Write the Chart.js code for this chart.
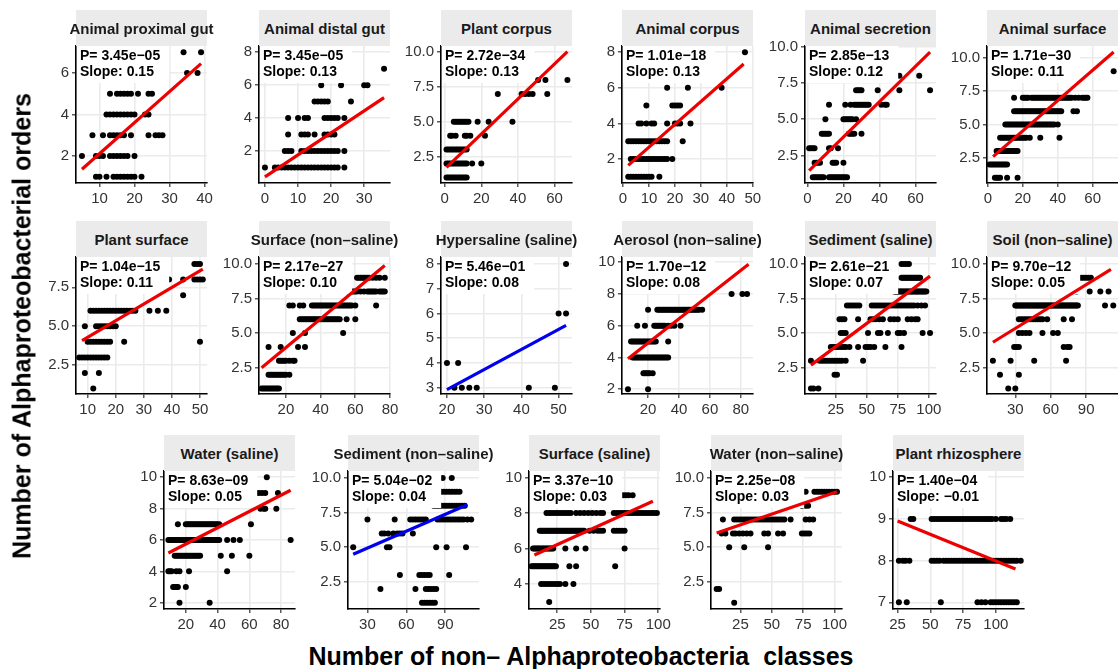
<!DOCTYPE html>
<html>
<head>
<meta charset="utf-8">
<script src="https://cdn.jsdelivr.net/npm/chart.js@4.4.1/dist/chart.umd.min.js"></script>
<style>
  html, body { margin: 0; padding: 0; background: #fff; }
  body { width: 1118px; height: 669px; position: relative; overflow: hidden;
         font-family: "Liberation Sans", Arial, Helvetica, sans-serif; }
  .panel { position: absolute; }
  .strip { position: absolute; background: #ebebeb; display: flex; align-items: center;
           justify-content: center; font-weight: bold; font-size: 15px; color: #1a1a1a;
           white-space: nowrap; overflow: visible; }
  .axis-title { position: absolute; font-weight: bold; font-size: 25px; color: #000;
                white-space: pre; }
</style>
</head>
<body>
<div id="figure"></div>
<div class="axis-title" id="ytitle" style="left:22px; top:326px; transform: translate(-50%,-50%) rotate(-90deg);">Number of Alphaproteobacterial orders</div>
<div class="axis-title" id="xtitle" style="left:581px; top:656px; transform: translate(-50%,-50%);">Number of non– Alphaproteobacteria  classes</div>
<script>
// ---- habitat panels -------------------------------------------------------
const panelNames = [
  'Animal proximal gut', 'Animal distal gut', 'Plant corpus', 'Animal corpus',
  'Animal secretion', 'Animal surface', 'Plant surface', 'Surface (non–saline)',
  'Hypersaline (saline)', 'Aerosol (non–saline)', 'Sediment (saline)', 'Soil (non–saline)',
  'Water (saline)', 'Sediment (non–saline)', 'Surface (saline)', 'Water (non–saline)',
  'Plant rhizosphere'
];

// regression results per panel
const pValues = [3.45e-5, 3.45e-5, 2.72e-34, 1.01e-18, 2.85e-13, 1.71e-30, 1.04e-15, 2.17e-27,
                 5.46e-1, 1.70e-12, 2.61e-21, 9.70e-12, 8.63e-9, 5.04e-2, 3.37e-10, 2.25e-8, 1.40e-4];
const slopes = [0.1498, 0.134, 0.126, 0.128, 0.122, 0.114, 0.107, 0.104,
                0.081, 0.0762, 0.067, 0.0527, 0.052, 0.0405, 0.0344, 0.031, -0.0128];
const intercepts = [0.61, 0.42, 1.60, 1.384, 1.33, 2.24, 3.22, 1.876,
                    1.31, 3.394, 2.35, 3.76, 4.70, 3.73, 5.36, 5.84, 9.27];
const lineFrom = [5, 0, 1, 2, 1, 3, 8, 6, 20, 7, 5, 11, 9, 19, 8, 6, 25];
const lineTo   = [39, 36, 67, 46.5, 68, 72, 51, 77, 52, 85, 101, 111, 86, 107, 96, 102, 115];

// axis ticks and limits per panel
const xTicks = [
  [10,20,30,40], [0,10,20,30], [0,20,40,60], [0,10,20,30,40,50], [0,20,40,60], [0,20,40,60],
  [10,20,30,40,50], [20,40,60,80], [20,30,40,50], [20,40,60,80], [25,50,75,100], [30,60,90],
  [20,40,60,80], [30,60,90], [25,50,75,100], [25,50,75,100], [25,50,75,100]
];
const yTicks = [
  [2,4,6], [2,4,6,8], [2.5,5,7.5,10], [2,4,6,8], [2.5,5,7.5,10], [2.5,5,7.5,10],
  [2.5,5,7.5], [2.5,5,7.5,10], [3,4,5,6,7,8], [2,4,6,8,10], [2.5,5,7.5,10], [2.5,5,7.5,10],
  [2,4,6,8,10], [2.5,5,7.5,10], [4,6,8,10], [2.5,5,7.5,10], [7,8,9,10]
];
const xLimits = [
  [3.3,40.7], [-1.8,37.8], [-2,69.5], [-0.4,50.1], [-1.3,71.3], [-0.5,74.5],
  [5.85,52.5], [4.5,80], [18.4,53.6], [3.15,87.85], [0.2,105.8], [6,117],
  [6.25,88.75], [15,116], [4,101.3], [1.5,106], [21.5,121.5]
];
const yLimits = [
  [0.7,7.3], [0.05,8.38], [0.6,10.45], [0.65,8.35], [0.6,10.05], [0.6,10.9],
  [0.65,9.45], [0.6,10.5], [2.75,8.28], [1.7,10.33], [0.6,10.5], [0.6,10.5],
  [1.6,10.4], [0.55,10.5], [2.6,10.36], [0.55,10.5], [6.84,10.15]
];

// observations: [orders, [non-Alphaproteobacteria class counts]]
const proximalGut = [
  [7,[34,39]], [6,[35,38]],
  [5,[13,15,16,17,18,19,21,24,25]],
  [4,[12,13,14,15,16,17,18,19,20,23,24]],
  [3,[8,11,13,14,15,16,17,19,24,26,27,28]],
  [2,[5,9,10,11,13,14,15,16,17,18,20]],
  [1,[9,10,12,14,15,16,17,18,19,20,22]]
];
const distalGut = [
  [7,[36]], [6,[17,23,30,31]],
  [5,[15,16,17,18,19,26]],
  [4,[7,10,12,13,18,19,20,21,22,24]],
  [3,[7,11,12,13,15,18,19,20,21]],
  [2,[6,7,8,11,12,13,14,15,16,17,18,19,20,21,22,24]],
  [1,[0,3,4,5,6,7,8,9,10,11,12,13,14,15,16,17,18,19,20,21,22,24]]
];
const plantCorpus = [
  [8,[51,55,67]], [7,[29,42,44,46,48,56]],
  [5,[5,6,7,8,9,10,11,12,13,18,24,37]],
  [4,[3,4,6,11,12,14,22]],
  [3,[1,2,3,4,5,6,7,8,9,10,11,12]],
  [2,[1,2,3,4,5,6,7,8,9,10,11,12,15,20]],
  [1,[1,2,3,4,5,6,7,8,9,10,11,12]]
];
const animalCorpus = [
  [8,[47]], [6,[17,25,38]],
  [5,[9,19,20,21,22]],
  [4,[6,7,9,11,12,17,20,21,22,26]],
  [3,[2,3,4,5,6,7,8,9,10,11,12,13,14,15,16,17,23]],
  [2,[3,4,5,6,7,8,9,10,11,12,13,14,15,16,17,19]],
  [1,[2,3,4,5,6,7,8,9,10,11,14]]
];
const animalSecretion = [
  [8,[51,62]], [7,[27,28,29,30,39,51,68]],
  [6,[12,21,24,26,27,28,29,30,31,32,33,34,41,43,44]],
  [5,[10,20,21,22,23,24,25,27]],
  [4,[8,9,10,11,12,23,24,25,26,30]],
  [3,[1,2,3,4,12,13,17]],
  [2,[4,5,6,7,14,15,16,20]],
  [1,[3,4,5,6,7,8,9,12,13,14,15,16,17,18,19,20,21,22]]
];
const animalSurface = [
  [9,[72]],
  [7,[15,20,21,22,23,25,26,27,28,29,30,31,32,33,34,35,36,37,38,39,40,41,42,43,44,45,46,47,48,50,52,54,55,56,57]],
  [6,[15,16,17,18,19,20,21,22,23,24,25,26,27,28,29,30,31,32,33,34,35,36,37,38,39,40,41,42,49,51]],
  [5,[10,11,12,13,14,15,16,17,18,19,20,21,22,23,24,25,26,27,28,29,30,31,32,33,34,35,36,37,38,40]],
  [4,[7,8,9,10,11,12,13,14,15,16,17,18,19,20,21,22,24,30,41]],
  [3,[5,6,7,8,9,10,11,12,13,14,15,16,17]],
  [2,[1,2,3,4,5,6,7,8,9,10,11]],
  [1,[4,5,6,7,11,17]]
];
const plantSurface = [
  [9,[48,49,50]], [8,[39,44,48,49,50,51]], [7,[44]],
  [6,[11,12,13,14,15,16,17,18,19,20,21,22,23,24,25,26,27,32,35,38]],
  [5,[9,13,14,15,16,17,18,19,20]],
  [4,[10,11,12,13,14,15,16,17,18,23,50]],
  [3,[7,8,9,10,11,12,13,14,15,16,17]],
  [2,[9,14]], [1,[12]]
];
const surfaceNonSaline = [
  [9,[61,62,63,64,65,66,67,68,70,72,74,77]],
  [8,[56,57,58,59,60,61,63,65,67,68,69,70,71,72,74,75,76,77]],
  [7,[22,24,28,30,35,36,37,38,39,40,41,42,43,44,45,46,47,48,49,50,51,52,53,54,55,56,57,58,60,72]],
  [6,[28,29,30,31,32,33,34,35,36,37,38,39,40,41,42,43,44,45,46,47,48,49,50,51,55,60]],
  [5,[24,31,53]],
  [4,[10,17,27,31]],
  [3,[16,17,18,19,20,22,24,25]],
  [2,[10,11,12,13,14,15,16,17,18,19,20,22]],
  [1,[6,7,8,9,10,11,12,13,14,15,16]]
];
const hypersaline = [
  [8,[52]], [6,[50,52]], [4,[20,23]], [3,[22,24,26,28,42,49]]
];
const aerosol = [
  [8,[74,81,84]],
  [7,[20,26,27,28,29,30,31,32,33,34,35,36,37,38,39,40,41,42,43,44,45,46,47,48,49,50,51,52,53,55]],
  [6,[13,18,24,25,26,27,28,29,30,31,33,35,37,41]],
  [5,[9,10,11,12,13,14,15,16,17,18,19,20,21,22,23,24,25,33]],
  [4,[10,11,12,13,14,15,16,17,18,19,20,21,22,23,24,25,26,27,28,29,30,31,32,33]],
  [3,[17,18,19,20,21,23]],
  [2,[7,20]]
];
const sedimentSaline = [
  [10,[78,80,82,84]],
  [9,[78,79,80,81,82,83,84,85,86,87,88,89,90,91,92,93]],
  [8,[72,73,74,75,76,77,78,79,80,81,82,83,84,85,86,87,88,89,90,91,92,93,94,95,96,97,98]],
  [7,[34,36,38,40,42,44,54,56,58,60,62,64,66,68,70,72,74,76,78,80,82,84,86,88,91,94,97]],
  [6,[28,30,32,43,53,55,57,60,63,69,72,75,83,86,89,91]],
  [5,[29,31,33,51,59,61,67,75,77,80,95,101]],
  [4,[21,23,25,27,29,31,33,36,43,49,51,53,56,65,78]],
  [3,[5,12,14,16,18,20,22,24,26,28,30,33,47]],
  [2,[24,26]],
  [1,[5,7,11]]
];
const soilNonSaline = [
  [9,[84,86,88,90,92,94]],
  [8,[82,93,102,109]],
  [7,[30,31,32,33,34,35,36,37,38,39,40,41,42,43,44,45,46,47,48,49,50,51,52,53,54,55,56,57,58,59,60,61,62,63,64,65,66,67,68,69,70,71,72,73,74,75,76,77,78,79,80,81,82,83,106,113]],
  [6,[33,35,37,39,41,43,45,47,49,51,53,57,71,78]],
  [5,[33,36,39,42,53,62,66]],
  [4,[29,31,33,71,74,76]],
  [3,[11,26,46,73]],
  [2,[17,33]],
  [1,[24,30]]
];
const waterSaline = [
  [10,[71]],
  [9,[64,66,68,70,78]],
  [8,[67,69,70,77]],
  [7,[15,20,21,22,23,24,25,26,27,28,29,30,31,32,33,34,35,36,37,38,39,40,41,61]],
  [6,[9,10,11,12,13,14,15,16,17,18,19,20,21,22,23,24,25,26,27,28,29,30,31,32,33,34,35,36,37,38,39,40,41,46,50,54,86]],
  [5,[13,14,15,16,17,18,19,20,21,22,23,24,25,26,27,28,29,42,49,60]],
  [4,[9,10,11,14,16,22,46]],
  [3,[12,13,14,15,20]],
  [2,[16,35]]
];
const sedimentNonSaline = [
  [10,[88,95]],
  [9,[85,87,89,91,93,95,97,99,101]],
  [8,[81,83,85,87,89,91,93,95,97,99,101,103,105]],
  [7,[30,51,63,65,67,69,71,73,75,84,86,88,90,92,94,96,98,100,102,104,107,110]],
  [6,[41,43,46,50,53,55,57,65]],
  [5,[19,45,47,83,91,106]],
  [3,[55,70,72,74,76,78,93]],
  [2,[40,67,75,77,79,81,83]],
  [1,[72,74,76,78,80,82]]
];
const surfaceSaline = [
  [9,[74,76,78,81]],
  [8,[17,19,21,23,25,27,29,31,33,35,39,42,45,48,51,54,57,59,67,69,71,73,75,77,79,81,83,85,87,89,91,93,95,97,99]],
  [7,[12,13,14,15,16,17,18,19,20,21,22,23,24,25,26,27,28,29,30,31,32,33,34,35,36,37,38,39,40,41,42,43,44,45,49,52,55,57,59,67,69,71,73,75]],
  [6,[7,8,9,10,11,12,13,14,15,16,17,18,19,20,21,22,31,39,46,75]],
  [5,[6,7,8,9,10,11,12,13,14,15,16,17,18,19,20,21,22,23,24,34,39,68]],
  [4,[13,15,17,19,21,23,25,27,31,37]],
  [3,[19]]
];
const waterNonSaline = [
  [9,[77,84,86,88,90,92,94,96,98,100,102]],
  [8,[74,77,79]],
  [7,[11,20,22,24,26,28,30,32,34,36,38,40,42,44,46,48,50,52,54,56,58,60,65,77,80,83]],
  [6,[10,13,19,21,24,27,30,33,44,47,55,59,74,76,78,80]],
  [5,[16,28,47]],
  [2,[6,8]],
  [1,[20]]
];
const rhizosphere = [
  [9,[35,37,51,53,55,57,59,61,63,65,67,69,71,73,75,77,79,81,83,85,87,89,91,93,95,97,100,104,106,108,111]],
  [8,[26,29,31,34,51,53,55,57,60,62,64,66,68,70,72,74,76,78,80,82,84,86,88,90,92,94,96,98,100,102,104,106,108,110,112,114,116,119]],
  [7,[26,32,58,86,89,92,96,98,100,102,104,106,108,110,112,114,116]]
];
const panelPoints = [proximalGut, distalGut, plantCorpus, animalCorpus, animalSecretion,
  animalSurface, plantSurface, surfaceNonSaline, hypersaline, aerosol, sedimentSaline,
  soilNonSaline, waterSaline, sedimentNonSaline, surfaceSaline, waterNonSaline, rhizosphere];

// ---- page geometry -------------------------------------------------------
const rowTops = [46, 257, 471];
const rowHeights = [137, 137, 138];
const rowLefts = [
  [76, 259, 441, 622, 805, 987],
  [76, 259, 441, 622, 805, 987],
  [164, 348, 529, 711, 893]
];
const PLOT_W = 131, AXIS_W = 40, AXIS_H = 27, PAD_T = 10, PAD_R = 14, STRIP_H = 36;
const FONT = '"Liberation Sans", Arial, Helvetica, sans-serif';

function expandPoints(groups) {
  const pts = [];
  groups.forEach(([y, xs]) => xs.forEach(x => pts.push({ x, y })));
  return pts;
}
function formatP(p) {
  const [m, e] = p.toExponential(2).split('e');
  const n = Math.abs(parseInt(e, 10));
  return 'P= ' + m + 'e' + (parseInt(e, 10) < 0 ? '−' : '+') + String(n).padStart(2, '0');
}
function formatSlope(s) {
  return 'Slope: ' + s.toFixed(2).replace('-', '−');
}
function tickFormatter(ticks) {
  const decimals = ticks.some(v => !Number.isInteger(v));
  return v => decimals ? Number(v).toFixed(1) : String(v);
}

// white label box with the P value and slope, drawn over the points
const statLabel = {
  id: 'statLabel',
  afterDatasetDraw(chart, args, opts) {
    if (args.index !== 0) return;
    const { ctx, chartArea: a } = chart;
    ctx.save();
    ctx.font = 'bold 14px ' + FONT;
    const w = Math.max(...opts.lines.map(t => ctx.measureText(t).width));
    ctx.fillStyle = '#ffffff';
    ctx.fillRect(a.left + 1, a.top, w + 12, 37);
    ctx.fillStyle = '#000000';
    ctx.textAlign = 'left';
    ctx.textBaseline = 'middle';
    ctx.fillText(opts.lines[0], a.left + 4, a.top + 10);
    ctx.fillText(opts.lines[1], a.left + 4, a.top + 26);
    ctx.restore();
  }
};

const figure = document.getElementById('figure');
let idx = 0;
rowLefts.forEach((lefts, r) => {
  lefts.forEach(left => {
    const i = idx++;
    const top = rowTops[r], h = rowHeights[r];

    const box = document.createElement('div');
    box.className = 'panel';
    box.style.left = (left - AXIS_W) + 'px';
    box.style.top = (top - PAD_T) + 'px';
    const cw = AXIS_W + PLOT_W + PAD_R, ch = PAD_T + h + AXIS_H;
    const canvas = document.createElement('canvas');
    canvas.width = cw; canvas.height = ch;
    canvas.style.width = cw + 'px'; canvas.style.height = ch + 'px';
    box.appendChild(canvas);
    figure.appendChild(box);

    const strip = document.createElement('div');
    strip.className = 'strip';
    strip.style.left = left + 'px';
    strip.style.top = (top - STRIP_H) + 'px';
    strip.style.width = PLOT_W + 'px';
    strip.style.height = STRIP_H + 'px';
    strip.textContent = panelNames[i];
    figure.appendChild(strip);

    const fx = tickFormatter(xTicks[i]);
    const fy = tickFormatter(yTicks[i]);
    const lineColor = pValues[i] < 0.05 ? '#ee0000' : '#0000ee';
    const x0 = lineFrom[i], x1 = lineTo[i];

    new Chart(canvas, {
      type: 'scatter',
      data: {
        datasets: [
          {
            data: expandPoints(panelPoints[i]),
            pointRadius: 3,
            pointBackgroundColor: '#000000',
            pointBorderWidth: 0,
            order: 2
          },
          {
            data: [
              { x: x0, y: intercepts[i] + slopes[i] * x0 },
              { x: x1, y: intercepts[i] + slopes[i] * x1 }
            ],
            showLine: true,
            borderColor: lineColor,
            borderWidth: 3.2,
            pointRadius: 0,
            fill: false,
            order: 1
          }
        ]
      },
      options: {
        responsive: false,
        animation: false,
        devicePixelRatio: 1,
        events: [],
        layout: { padding: { top: PAD_T, right: PAD_R, left: 0, bottom: 0 } },
        plugins: {
          legend: { display: false },
          tooltip: { enabled: false },
          statLabel: { lines: [formatP(pValues[i]), formatSlope(slopes[i])] }
        },
        scales: {
          x: {
            type: 'linear',
            min: xLimits[i][0], max: xLimits[i][1],
            afterBuildTicks: s => { s.ticks = xTicks[i].map(v => ({ value: v })); },
            afterFit: s => { s.height = AXIS_H; s.paddingLeft = 0; s.paddingRight = 0; },
            grid: { color: '#ebebeb', lineWidth: 1.6, drawTicks: true, tickLength: 4,
                    tickColor: '#333333', tickWidth: 1.2 },
            border: { display: true, color: '#000000', width: 1.6 },
            ticks: { color: '#333333', font: { size: 15, family: FONT }, padding: 3,
                     maxRotation: 0, autoSkip: false, callback: v => fx(v) }
          },
          y: {
            type: 'linear',
            min: yLimits[i][0], max: yLimits[i][1],
            afterBuildTicks: s => { s.ticks = yTicks[i].map(v => ({ value: v })); },
            afterFit: s => { s.width = AXIS_W; s.paddingTop = 0; s.paddingBottom = 0; },
            grid: { color: '#ebebeb', lineWidth: 1.6, drawTicks: true, tickLength: 4,
                    tickColor: '#333333', tickWidth: 1.2 },
            border: { display: true, color: '#000000', width: 1.6 },
            ticks: { color: '#333333', font: { size: 15, family: FONT }, padding: 3,
                     autoSkip: false, callback: v => fy(v) }
          }
        }
      },
      plugins: [statLabel]
    });
  });
});
</script>
</body>
</html>
